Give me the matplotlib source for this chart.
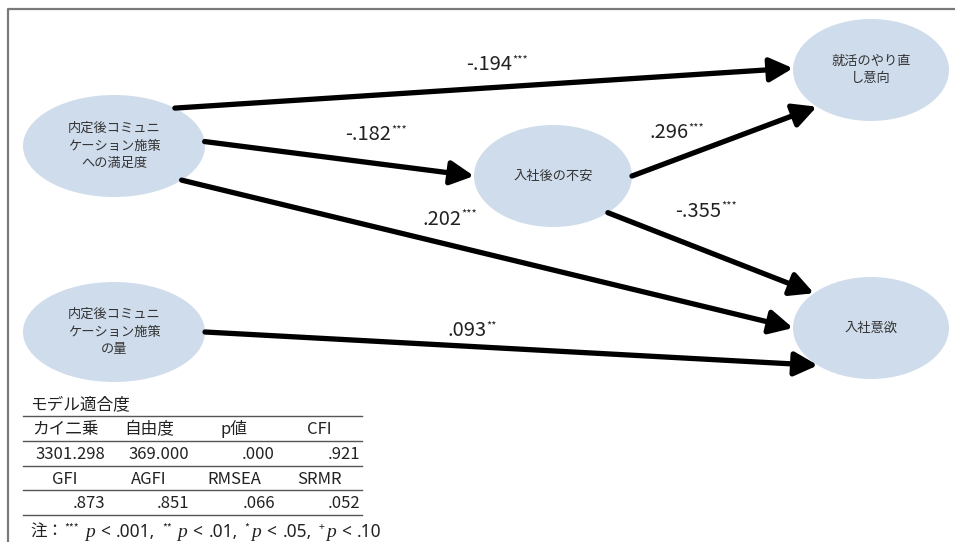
import numpy as np
import matplotlib
matplotlib.use("Agg")
import matplotlib.pyplot as plt
from matplotlib.patches import Ellipse

plt.rcParams['font.family'] = ['Noto Sans CJK JP', 'DejaVu Sans']

# ノード（潜在変数・観測変数）
nodes = ["内定後コミュニ\nケーション施策\nへの満足度",
         "内定後コミュニ\nケーション施策\nの量",
         "入社後の不安",
         "就活のやり直\nし意向",
         "入社意欲"]
# 中心 x, y と幅・高さ（ピクセル）
node_xy = [(114, 146), (114, 332), (553, 176), (871, 70), (871, 328)]
node_wh = [(182, 102), (182, 100), (158, 102), (156, 102), (156, 102)]

# パス：始点ノード, 終点ノード, 係数, 有意水準
path_from = [0, 0, 0, 2, 2, 1]
path_to = [3, 2, 4, 3, 4, 4]
coefs = ["-.194", "-.182", ".202", ".296", "-.355", ".093"]
stars = ["***", "***", "***", "***", "***", "**"]
# 矢印が楕円に接する角度（度）と係数ラベルの位置
ang_from = [48, 5, -42, 0, -46, 0]
ang_to = [178, 180, 180, 226, 137, 227]
label_xy = [(466, 70), (345, 140), (422, 225), (649, 138), (675, 217), (447, 336)]

# モデル適合度の表
fit_title = "モデル適合度"
fit_head1 = ["カイ二乗", "自由度", "p値", "CFI"]
fit_val1 = ["3301.298", "369.000", ".000", ".921"]
fit_head2 = ["GFI", "AGFI", "RMSEA", "SRMR"]
fit_val2 = [".873", ".851", ".066", ".052"]

# 注
note_marks = ["***", "**", "*", "+"]
note_levels = [".001", ".01", ".05", ".10"]

fig = plt.figure(figsize=(9.55, 5.42), dpi=100)
ax = fig.add_axes([0, 0, 1, 1])
ax.set_xlim(0, 955)
ax.set_ylim(542, 0)
ax.axis("off")
renderer = fig.canvas.get_renderer()

# 枠線（上と左のみ）
ax.plot([8, 8, 955], [542, 9, 9], color="#7a7a7a", lw=1.6, solid_capstyle="butt")

for name, (cx, cy), (w, h) in zip(nodes, node_xy, node_wh):
    ax.add_patch(Ellipse((cx, cy), w, h, facecolor="#cfdcec", edgecolor="none", zorder=1))
    ax.text(cx, cy, name, ha="center", va="center", fontsize=9.5, color="#333333",
            linespacing=1.45, zorder=3)


def edge_point(i, deg):
    cx, cy = node_xy[i]
    w, h = node_wh[i]
    t = np.radians(deg)
    return cx + w / 2 * np.cos(t), cy - h / 2 * np.sin(t)


for a, b, fa, tb in zip(path_from, path_to, ang_from, ang_to):
    p0 = edge_point(a, fa)
    p1 = edge_point(b, tb)
    ax.annotate("", xy=p1, xytext=p0, zorder=2,
                arrowprops=dict(arrowstyle="-|>,head_length=0.7,head_width=0.36",
                                color="black", lw=3.8, mutation_scale=20,
                                shrinkA=0, shrinkB=0))


def put_runs(x, y, runs):
    # runs: (文字列, サイズ, フォント, スタイル, 上付きの高さ, 後ろの余白)
    cur = x
    for txt, fs, fam, sty, rise, gap in runs:
        t = ax.text(cur, y - rise, txt, fontsize=fs, family=fam, style=sty,
                    ha="left", va="baseline", color="#222222", zorder=4)
        cur += t.get_window_extent(renderer=renderer).width + gap


jp = ['Noto Sans CJK JP', 'DejaVu Sans']
for (x, y), c, s in zip(label_xy, coefs, stars):
    put_runs(x, y, [(c, 14.5, jp, "normal", 0, 0), (s, 8, jp, "normal", 8, 0)])

# 表
edges = [23, 107, 191, 277, 362]
ax.text(30, 409, fit_title, fontsize=12, ha="left", va="baseline", color="#222222")
for yl in [416, 441, 466, 490, 515]:
    ax.plot([edges[0], edges[-1]], [yl, yl], color="#555555", lw=1.0)

rows = [(fit_head1, 434, "center"), (fit_val1, 459, "right"),
        (fit_head2, 484, "center"), (fit_val2, 508, "right")]
for cells, yb, al in rows:
    for k, txt in enumerate(cells):
        if al == "center":
            xx = (edges[k] + edges[k + 1]) / 2
        else:
            xx = edges[k + 1] - 2
        ax.text(xx, yb, txt, fontsize=12, ha=al, va="baseline", color="#222222")

it = ['Liberation Serif']
la = ['Noto Sans']
runs = [("注：", 12, jp, "normal", 0, 1)]
for k, (m, lv) in enumerate(zip(note_marks, note_levels)):
    runs.append((m, 7.5, jp, "normal", 7, 6 if k < 2 else 2))
    runs.append(("p", 14, it, "italic", 0, 5))
    runs.append(("<", 12.5, la, "normal", 0, 6))
    runs.append((lv + ("," if k < 3 else ""), 12.5, la, "normal", 0, 7))
put_runs(30, 537, runs)

fig.savefig("out.png", dpi=100)
